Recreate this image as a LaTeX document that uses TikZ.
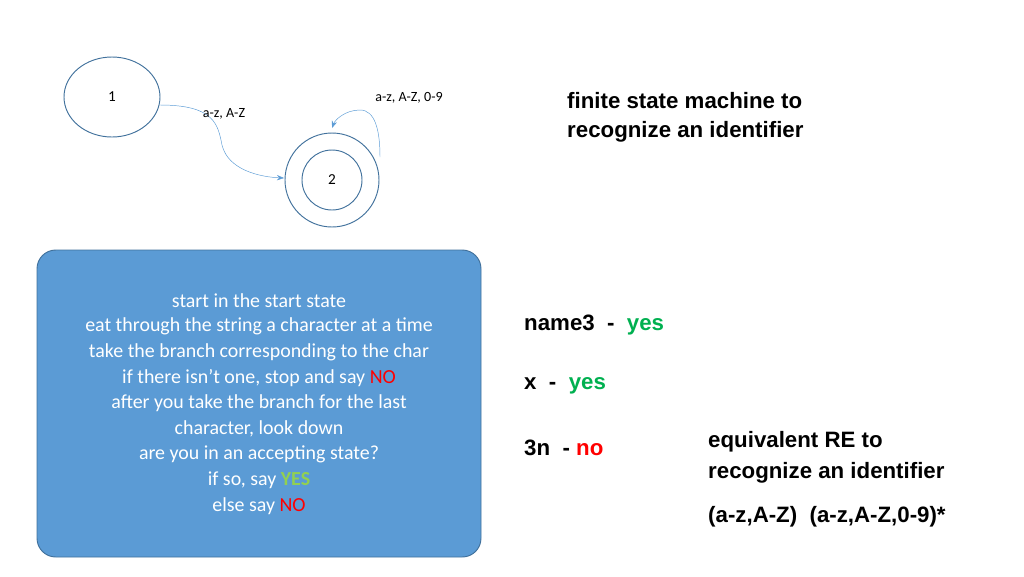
\documentclass[tikz,border=0pt]{standalone}
\usepackage{fontspec}
\setmainfont{Carlito}
\newfontfamily\arialfont{Liberation Sans}
\usetikzlibrary{arrows.meta}
\definecolor{boxblue}{HTML}{5B9BD5}
\definecolor{boxedge}{HTML}{41719C}
\definecolor{stateedge}{HTML}{41719C}
\definecolor{arcblue}{HTML}{5B9BD5}
\definecolor{yesgreen}{HTML}{00B050}
\definecolor{nored}{HTML}{FF0000}
\definecolor{litegreen}{HTML}{92D050}
\tikzset{
  state/.style={draw=stateedge, thick},
  trans/.style={arcblue, -{Stealth[length=6pt]}},
  edgelabel/.style={font=\fontsize{12}{14}\selectfont},
  note/.style={font=\arialfont\bfseries\fontsize{19}{22}\selectfont, anchor=west, inner sep=0pt},
}
\begin{document}
\begin{tikzpicture}[x=0.03cm, y=-0.03cm]
\useasboundingbox (0,0) rectangle (1024,576);
% Automat
\draw[state] (112,97) ellipse [x radius=48, y radius=40];
\node[font=\fontsize{13}{15}\selectfont] (one) at (112,97) {1};
\draw[state] (332,180) circle (47);
\draw[state] (332,180) circle (30);
\node[font=\fontsize{13}{15}\selectfont] (two) at (332,180) {2};
\coordinate (outof) at (160,105);
\coordinate (into) at (284,178);
\coordinate (loopstart) at (380,157);
\coordinate (loopend) at (332,128);
\draw[trans] (outof) .. controls (215,105) and (218,125) .. (222,145) .. controls (228,170) and (260,177) .. (into);
\draw[trans] (loopstart) .. controls (380,130) and (375,110) .. (360,110) .. controls (345,110) and (335,120) .. (loopend);
\node[edgelabel] (lblone) at (224,114) {a-z, A-Z};
\node[edgelabel] (lblloop) at (409,98) {a-z, A-Z, 0-9};
% Titel
\node[note] (title1) at (567,101) {finite state machine to};
\node[note] (title2) at (567,132) {recognize an identifier};
% Kasten
\draw[fill=boxblue, draw=boxedge, thick, rounded corners=16] (37,250) rectangle (481,557);
\foreach \txt [count=\i from 0] in {start in the start state,
  eat through the string a character at a time,
  take the branch corresponding to the char,
  {if there isn’t one, stop and say \textcolor{nored}{NO}},
  after you take the branch for the last,
  {character, look down},
  are you in an accepting state?,
  {if so, say \textcolor{litegreen}{\bfseries YES}},
  else say \textcolor{nored}{NO}}
  \node[font=\fontsize{17}{20}\selectfont, text=white] (line\i) at (259,301+25.6*\i) {\txt};
% Beispiele
\node[note] (ex1) at (524,325) {name3\ \ -\ \ \textcolor{yesgreen}{yes}};
\node[note] (ex2) at (524,386) {x\ \ -\ \ \textcolor{yesgreen}{yes}};
\node[note] (ex3) at (524,448) {3n\ \ -\ \textcolor{nored}{no}};
\node[note] (re1) at (708,442) {equivalent RE to};
\node[note] (re2) at (708,473) {recognize an identifier};
\node[note] (re3) at (708,517) {(a-z,A-Z)\ \ (a-z,A-Z,0-9)*};
\end{tikzpicture}
\end{document}
